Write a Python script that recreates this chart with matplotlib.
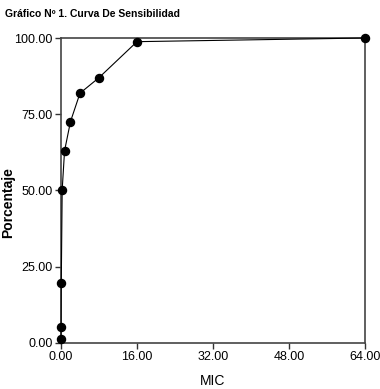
import matplotlib
matplotlib.use("Agg")
import matplotlib.pyplot as plt

# datos
mic = [0.01, 0.03, 0.06, 0.25, 0.75, 2, 4, 8, 16, 64]
porcentaje = [1.2, 5.3, 19.8, 50.2, 63.0, 72.6, 81.9, 87.0, 98.8, 100.0]
xticks = [0, 16, 32, 48, 64]
yticks = [0, 25, 50, 75, 100]

plt.rcParams['font.family'] = ['Liberation Sans', 'DejaVu Sans']

fig = plt.figure(figsize=(3.8, 3.89), dpi=100)
ax = fig.add_axes([0.1605, 0.1183, 0.8, 0.784])

ax.plot(mic, porcentaje, color='black', linewidth=0.8,
        marker='o', markersize=5.8, markerfacecolor='black',
        markeredgecolor='black', clip_on=False, zorder=3)

ax.set_xlim(0, 64)
ax.set_ylim(0, 100)
ax.set_xticks(xticks)
ax.set_xticklabels(['%.2f' % v for v in xticks], fontsize=9)
ax.set_yticks(yticks)
ax.set_yticklabels(['%.2f' % v for v in yticks], fontsize=9)
ax.tick_params(direction='out', length=4, width=1, color='#333333', pad=2)

for s in ax.spines.values():
    s.set_color('#444444')
    s.set_linewidth(1.2)

ax.set_xlabel('MIC', fontsize=10, labelpad=8)
ax.set_ylabel('Porcentaje', fontsize=10, fontweight='bold')
ax.yaxis.set_label_coords(-0.152, 0.46)

fig.text(0.013, 0.978, 'Gráfico Nº 1. Curva De Sensibilidad',
         fontsize=7.5, fontweight='bold', va='top', ha='left',
         family=['Liberation Sans Narrow', 'Liberation Sans', 'DejaVu Sans'])

fig.savefig('out.png', dpi=100)
